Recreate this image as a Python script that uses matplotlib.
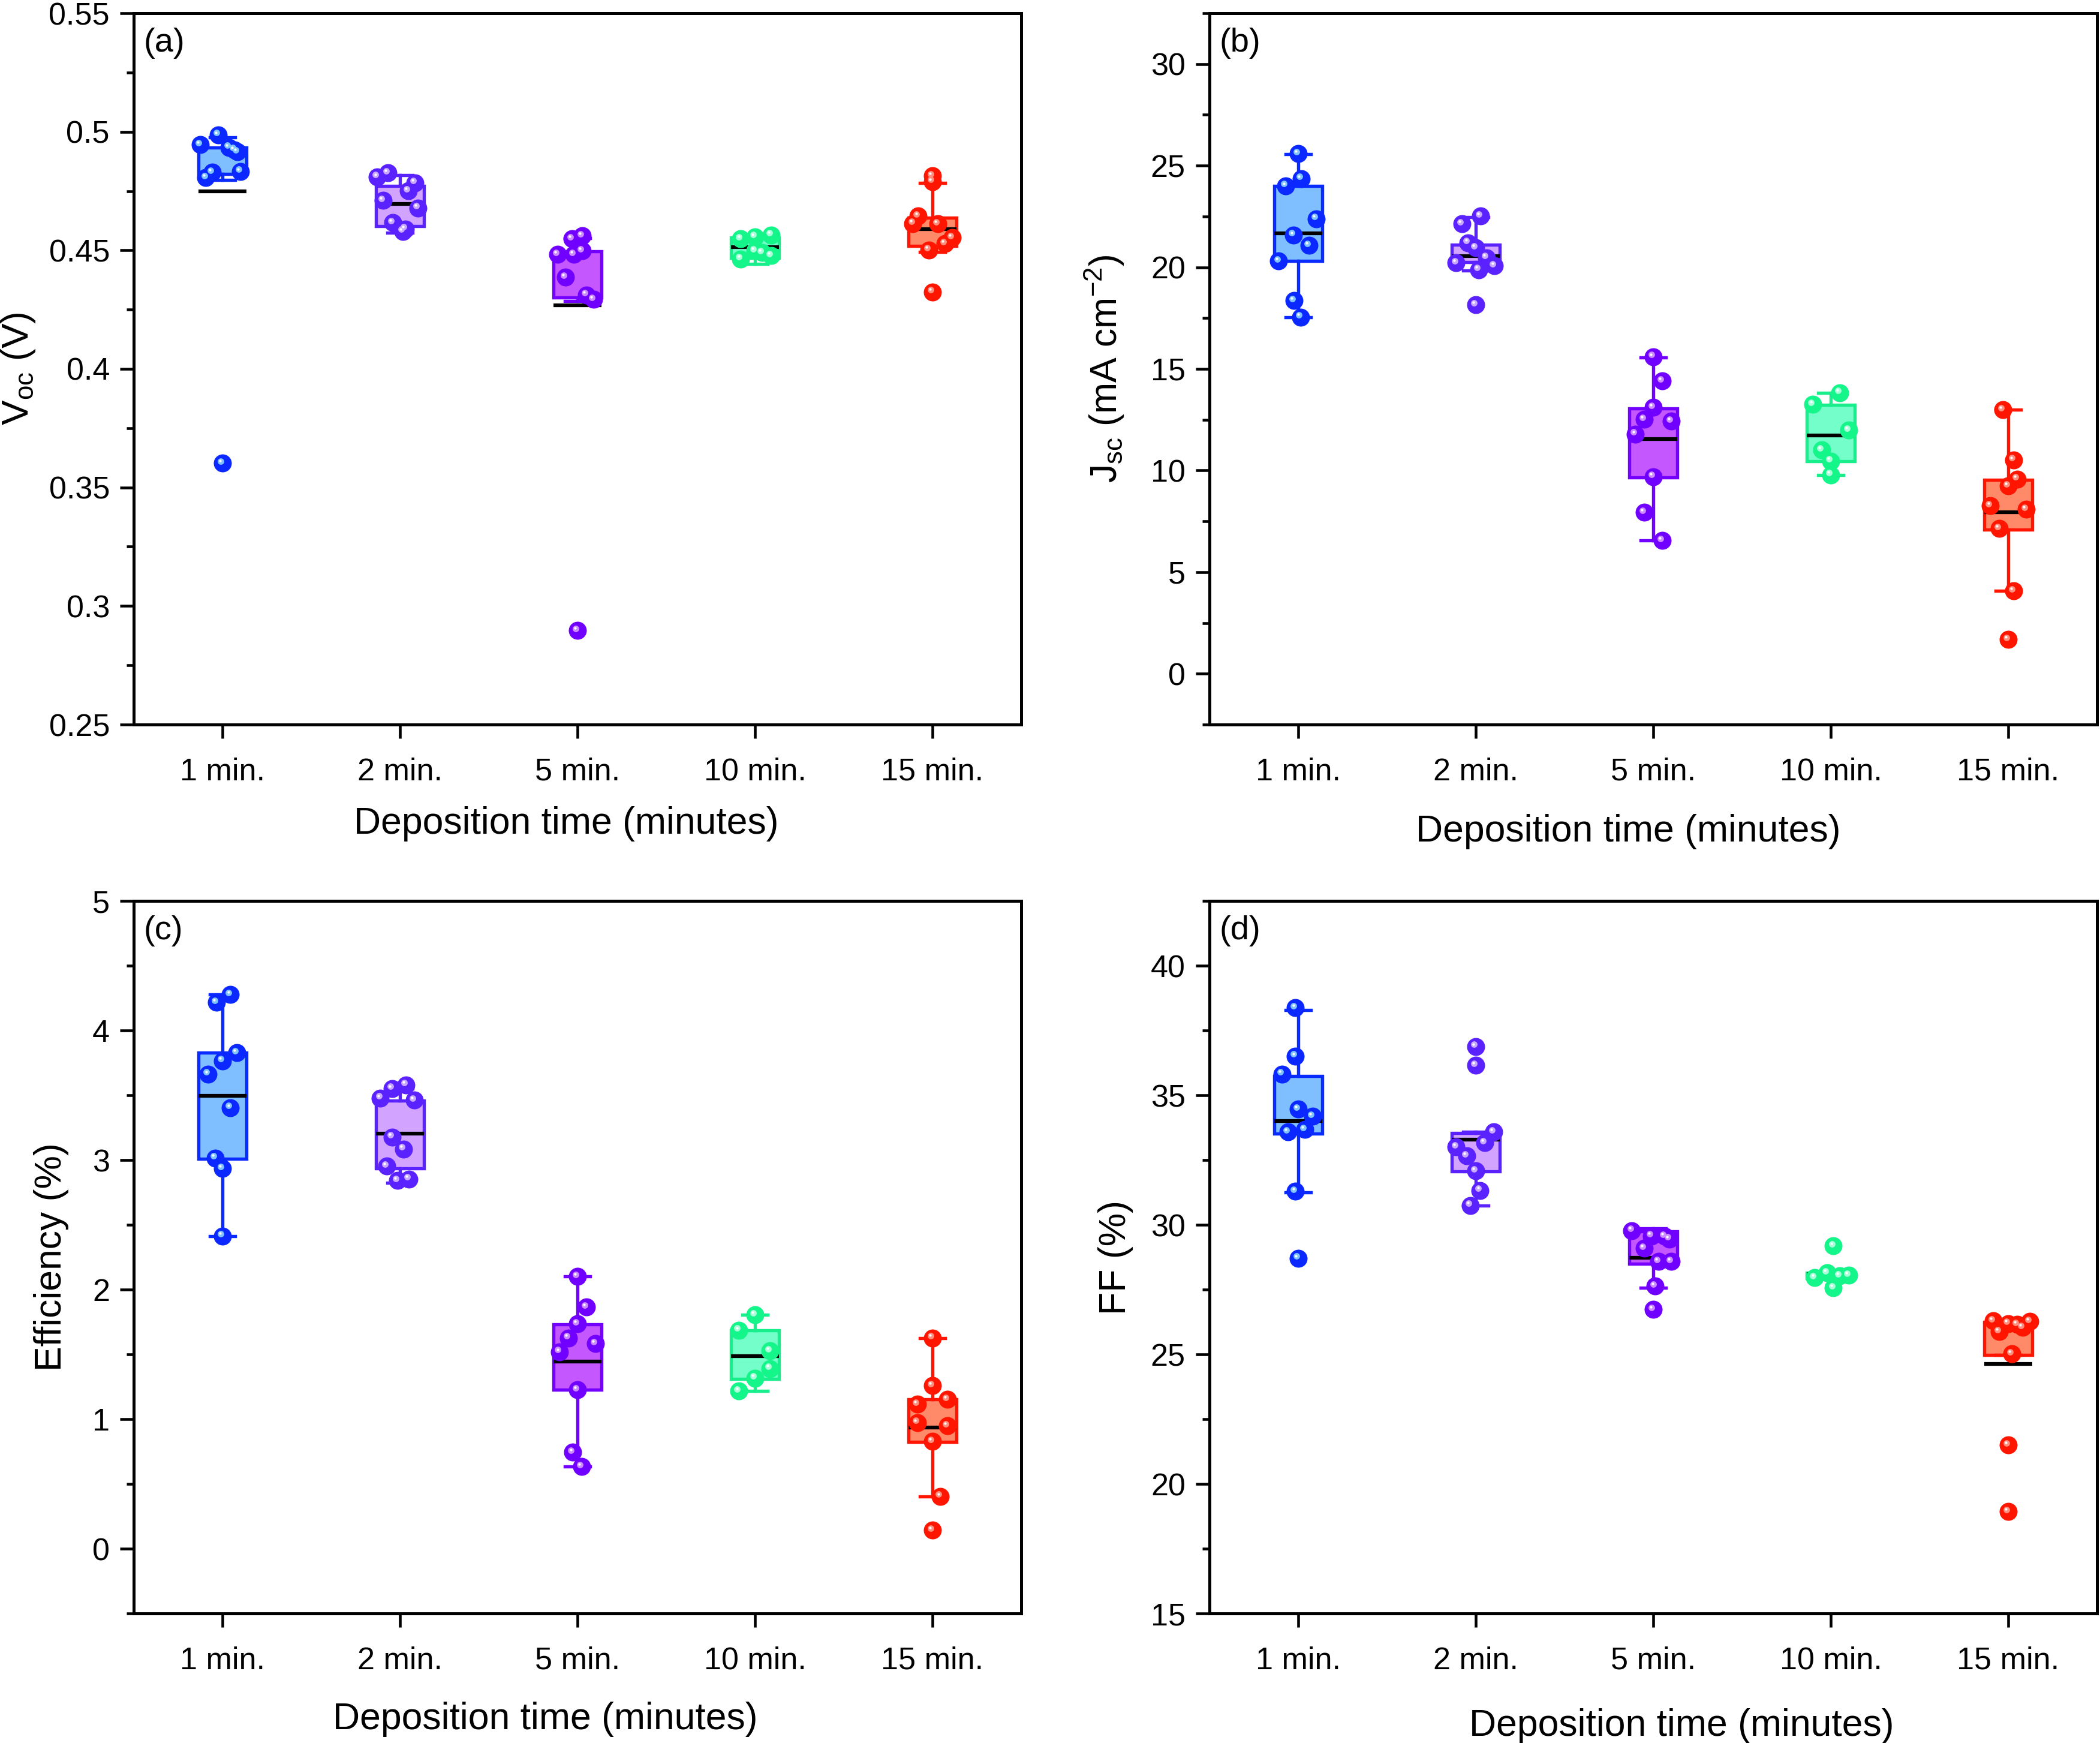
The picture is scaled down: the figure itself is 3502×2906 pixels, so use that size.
import matplotlib
matplotlib.use("Agg")
import matplotlib.pyplot as plt
from matplotlib import transforms
from matplotlib.ticker import MultipleLocator, FuncFormatter
import numpy as np

plt.rcParams['font.family'] = ['Liberation Sans', 'DejaVu Sans']
plt.rcParams['mathtext.fontset'] = 'custom'
plt.rcParams['mathtext.rm'] = 'Liberation Sans'
plt.rcParams['mathtext.it'] = 'Liberation Sans:italic'

# ---------------- data ----------------
categories = ["1 min.", "2 min.", "5 min.", "10 min.", "15 min."]

# (a) Voc (V)
voc_values = [
    [0.4987, 0.4945, 0.4934, 0.4924, 0.4829, 0.4833, 0.4806, 0.3602, 0.4915],
    [0.4810, 0.4827, 0.4785, 0.4751, 0.4711, 0.4679, 0.4616, 0.4580, 0.4590],
    [0.4561, 0.4548, 0.4498, 0.4483, 0.4483, 0.4386, 0.4312, 0.4293, 0.2897],
    [0.4548, 0.4557, 0.4565, 0.4498, 0.4464, 0.4477, 0.4490],
    [0.4814, 0.4790, 0.4645, 0.4613, 0.4612, 0.4553, 0.4529, 0.4502, 0.4325],
]
voc_jitter = [
    [-0.025, -0.126, 0.036, 0.068, -0.059, 0.10, -0.093, 0.0, 0.085],
    [-0.127, -0.067, 0.084, 0.046, -0.096, 0.10, -0.04, 0.016, 0.03],
    [0.026, -0.03, 0.026, -0.02, -0.113, -0.067, 0.05, 0.09, 0.0],
    [-0.08, 0.0, 0.09, 0.0, -0.08, 0.09, 0.04],
    [0.0, 0.0, -0.08, -0.11, 0.03, 0.11, 0.07, -0.02, 0.0],
]
voc_q1 = [0.4823, 0.4602, 0.4302, 0.4468, 0.4519]
voc_q3 = [0.4934, 0.4772, 0.4497, 0.4553, 0.4637]
voc_wlo = [0.4797, 0.4574, 0.4287, 0.4443, 0.4494]
voc_whi = [0.4976, 0.4816, 0.4552, 0.4560, 0.4784]
voc_mean = [0.4748, 0.4696, 0.4267, 0.4513, 0.4589]

# (b) Jsc (mA cm-2)
jsc_values = [
    [25.58, 24.01, 24.36, 22.39, 21.59, 21.07, 20.30, 18.35, 17.55],
    [22.53, 22.14, 21.21, 20.96, 20.47, 20.22, 20.08, 19.88, 18.16],
    [15.60, 14.40, 13.11, 12.52, 12.42, 11.79, 9.70, 7.94, 6.55],
    [13.83, 13.25, 11.98, 11.02, 10.47, 9.79],
    [12.99, 10.52, 9.58, 9.25, 8.27, 8.08, 7.14, 4.08, 1.69],
]
jsc_jitter = [
    [0.0, -0.07, 0.016, 0.10, -0.026, 0.06, -0.11, -0.023, 0.013],
    [0.027, -0.078, -0.043, 0.0, 0.06, -0.11, 0.106, 0.016, 0.0],
    [0.0, 0.05, 0.0, -0.05, 0.1, -0.1, 0.0, -0.05, 0.05],
    [0.05, -0.1, 0.1, -0.05, 0.0, 0.0],
    [-0.03, 0.03, 0.05, 0.0, -0.1, 0.1, -0.05, 0.03, 0.0],
]
jsc_q1 = [20.30, 20.25, 9.65, 10.45, 7.09]
jsc_q3 = [24.01, 21.12, 13.06, 13.22, 9.53]
jsc_wlo = [17.55, 19.83, 6.55, 9.79, 4.08]
jsc_whi = [25.56, 22.46, 15.57, 13.83, 12.99]
jsc_mean = [21.68, 20.55, 11.56, 11.72, 7.94]

# (c) Efficiency (%)
eff_values = [
    [4.276, 4.217, 3.829, 3.766, 3.663, 3.404, 3.016, 2.935, 2.414],
    [3.552, 3.581, 3.478, 3.462, 3.178, 3.085, 2.952, 2.841, 2.854],
    [2.100, 1.864, 1.734, 1.627, 1.583, 1.520, 1.225, 0.744, 0.633],
    [1.805, 1.686, 1.528, 1.391, 1.317, 1.217],
    [1.627, 1.258, 1.151, 1.114, 0.973, 0.948, 0.829, 0.404, 0.142],
]
eff_jitter = [
    [0.045, -0.035, 0.08, 0.0, -0.08, 0.045, -0.04, 0.0, 0.0],
    [-0.044, 0.033, -0.11, 0.08, -0.044, 0.02, -0.076, -0.014, 0.05],
    [0.0, 0.05, 0.0, -0.05, 0.1, -0.1, 0.0, -0.026, 0.023],
    [0.0, -0.09, 0.085, 0.085, 0.0, -0.09],
    [0.0, 0.0, 0.085, -0.085, -0.085, 0.085, 0.0, 0.045, 0.0],
]
eff_q1 = [3.009, 2.937, 1.225, 1.309, 0.826]
eff_q3 = [3.829, 3.459, 1.731, 1.686, 1.151]
eff_wlo = [2.410, 2.826, 0.633, 1.217, 0.404]
eff_whi = [4.276, 3.550, 2.100, 1.805, 1.627]
eff_mean = [3.497, 3.204, 1.446, 1.487, 0.937]

# (d) FF (%)
ff_values = [
    [38.37, 36.51, 35.82, 34.46, 34.19, 33.59, 33.67, 31.30, 28.71],
    [36.88, 36.16, 33.59, 33.16, 33.01, 32.66, 32.08, 31.33, 30.75],
    [29.78, 29.57, 29.55, 29.10, 28.58, 28.58, 27.63, 26.73, 29.45],
    [29.18, 28.15, 27.96, 28.03, 27.57, 28.05],
    [26.29, 26.19, 26.27, 26.04, 25.87, 26.15, 25.02, 21.50, 18.93],
]
ff_jitter = [
    [-0.016, -0.016, -0.092, 0.0, 0.08, -0.058, 0.036, -0.016, 0.0],
    [0.0, 0.0, 0.1, 0.05, -0.11, -0.05, 0.0, 0.025, -0.03],
    [-0.12, -0.01, 0.065, -0.05, 0.03, 0.10, 0.01, 0.0, 0.09],
    [0.015, -0.02, -0.09, 0.05, 0.015, 0.1],
    [-0.085, 0.0, 0.12, 0.08, -0.05, 0.05, 0.02, 0.0, 0.0],
]
ff_q1 = [33.53, 32.06, 28.50, 27.93, 24.98]
ff_q3 = [35.74, 33.55, 29.74, 28.15, 26.26]
ff_wlo = [31.25, 30.73, 27.56, 27.93, 24.98]
ff_whi = [38.29, 33.59, 29.86, 28.15, 26.26]
ff_mean = [34.01, 33.28, 28.72, 28.10, 24.63]

# ---------------- styles ----------------
edge_colors = ['#0A2BFF', '#5A22FF', '#7300FF', '#18EE8C', '#FF1500']
fill_colors = ['#7FBFFF', '#D2A4FF', '#C557FF', '#74FFCA', '#FF8A6A']
point_colors = ['#0A28FF', '#5A22FF', '#7000FF', '#14F58A', '#FF1500']
light_colors = ['#7FC4FF', '#C9A8FF', '#CC8CFF', '#A8FFDA', '#FF9080']

W, H, DPI = 3502, 2906, 300
fig = plt.figure(figsize=(W / DPI, H / DPI), dpi=DPI)

def px_axes(l, r, t, b):
    return fig.add_axes([l / W, 1 - b / H, (r - l) / W, (b - t) / H])

ax_a = px_axes(223, 1703, 22, 1208)
ax_b = px_axes(2017, 3497, 22, 1208)
ax_c = px_axes(223, 1703, 1502, 2690)
ax_d = px_axes(2017, 3497, 1502, 2690)

positions = np.arange(1, len(categories) + 1)


def draw_panel(ax, values, jitter, q1, q3, wlo, whi, mean, ylim, major, minor,
               ylabel, tag, ylab_x, xlab_x, xlab_y, fmt=None):
    stats = []
    for i in range(len(categories)):
        stats.append(dict(med=mean[i], q1=q1[i], q3=q3[i], whislo=wlo[i],
                          whishi=whi[i], fliers=[]))
    bp = ax.bxp(stats, positions=positions, widths=0.27, capwidths=0.14,
                patch_artist=True, showfliers=False, manage_ticks=False,
                zorder=2)
    for i in range(len(categories)):
        bp['boxes'][i].set_facecolor(fill_colors[i])
        bp['boxes'][i].set_edgecolor(edge_colors[i])
        bp['boxes'][i].set_linewidth(1.3)
        for w in bp['whiskers'][2 * i:2 * i + 2]:
            w.set_color(edge_colors[i]); w.set_linewidth(1.3)
        for c in bp['caps'][2 * i:2 * i + 2]:
            c.set_color(edge_colors[i]); c.set_linewidth(1.3)
        m = bp['medians'][i]
        m.set_color('black'); m.set_linewidth(1.5); m.set_zorder(4)
        m.set_solid_capstyle('butt')

    off1 = transforms.offset_copy(ax.transData, fig=fig, x=-0.7, y=0.8, units='points')
    off2 = transforms.offset_copy(ax.transData, fig=fig, x=-0.9, y=1.0, units='points')
    for i in range(len(categories)):
        xs = positions[i] + np.array(jitter[i])
        ys = np.array(values[i])
        ax.plot(xs, ys, 'o', ms=7.2, color=point_colors[i], mew=0, zorder=5,
                clip_on=False)
        ax.plot(xs, ys, 'o', ms=2.6, color=light_colors[i], mew=0, zorder=6,
                transform=off1)
        ax.plot(xs, ys, 'o', ms=1.0, color='white', mew=0, zorder=7,
                transform=off2)
    ax.set_xlim(0.5, 5.5)
    ax.set_ylim(*ylim)
    ax.set_xticks(positions)
    ax.set_xticklabels(categories)
    ax.yaxis.set_major_locator(MultipleLocator(major))
    ax.yaxis.set_minor_locator(MultipleLocator(minor))
    if fmt is not None:
        ax.yaxis.set_major_formatter(FuncFormatter(fmt))
    ax.tick_params(axis='both', which='major', direction='out', length=5.6,
                   width=1.1, labelsize=12.5, top=False, right=False)
    ax.tick_params(axis='x', which='major', pad=7.5)
    ax.tick_params(axis='y', which='major', pad=4)
    ax.tick_params(axis='y', which='minor', direction='out', length=2.8,
                   width=1.1)
    ax.tick_params(axis='x', which='minor', bottom=False)
    for s in ax.spines.values():
        s.set_linewidth(1.2)
    ax.set_ylabel(ylabel, fontsize=15)
    ax.yaxis.set_label_coords(ylab_x, 0.5)
    ax.set_xlabel('Deposition time (minutes)', fontsize=15)
    ax.xaxis.set_label_coords(xlab_x, xlab_y)
    ax.text(0.011, 0.98, tag, transform=ax.transAxes, ha='left', va='top',
            fontsize=13.5)


draw_panel(ax_a, voc_values, voc_jitter, voc_q1, voc_q3, voc_wlo, voc_whi,
           voc_mean, (0.25, 0.55), 0.05, 0.025,
           r'V$_\mathregular{oc}$ (V)', '(a)', -0.109, 0.487, -0.115,
           fmt=lambda v, p: '%g' % round(v, 3))
draw_panel(ax_b, jsc_values, jsc_jitter, jsc_q1, jsc_q3, jsc_wlo, jsc_whi,
           jsc_mean, (-2.5, 32.5), 5, 2.5,
           r'J$_\mathregular{sc}$ (mA cm$^\mathregular{-2}$)', '(b)', -0.094,
           0.472, -0.126)
draw_panel(ax_c, eff_values, eff_jitter, eff_q1, eff_q3, eff_wlo, eff_whi,
           eff_mean, (-0.5, 5), 1, 0.5,
           'Efficiency (%)', '(c)', -0.073, 0.464, -0.124)
draw_panel(ax_d, ff_values, ff_jitter, ff_q1, ff_q3, ff_wlo, ff_whi,
           ff_mean, (15, 42.5), 5, 2.5,
           'FF (%)', '(d)', -0.086, 0.532, -0.133)

fig.savefig('out.png', dpi=DPI)
